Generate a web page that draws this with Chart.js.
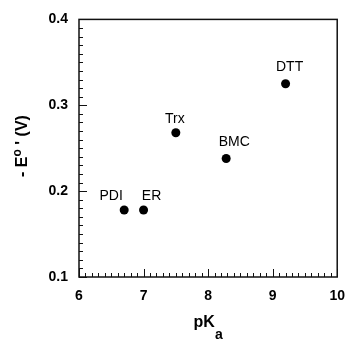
<!DOCTYPE html>
<html>
<head>
<meta charset="utf-8">
<script src="https://cdn.jsdelivr.net/npm/chart.js@4.4.1/dist/chart.umd.min.js"></script>
<style>
  body { margin: 0; background: #fff; }
  #wrap { width: 356px; height: 341px; }
</style>
</head>
<body>
<div id="wrap"><canvas id="chart" width="356" height="341"></canvas></div>
<script>
// values
const names = ['PDI', 'ER', 'Trx', 'BMC', 'DTT'];
const pKa = [6.7, 7.0, 7.5, 8.28, 9.2];
const potential = [0.178, 0.178, 0.268, 0.238, 0.325];

// label placement relative to each point (px)
const labelDx = [-13, 8, -1, 8, 4];
const labelDy = [-14, -14, -14, -16, -17];

const FONT = '"Liberation Sans", Arial, sans-serif';

// frame, inward tick marks, point labels and axis titles
const decor = {
  id: 'decor',
  afterDraw(chart) {
    const { ctx, chartArea: a, scales: { x, y } } = chart;
    ctx.save();
    ctx.strokeStyle = '#111';
    ctx.lineWidth = 1.5;
    ctx.strokeRect(a.left, a.top, a.right - a.left, a.bottom - a.top);

    ctx.lineWidth = 1;
    ctx.beginPath();
    for (let i = 60; i <= 100; i++) {
      const px = Math.round(x.getPixelForValue(i / 10)) + 0.5;
      const len = i % 10 === 0 ? 8 : 4;
      ctx.moveTo(px, a.bottom);
      ctx.lineTo(px, a.bottom - len);
    }
    for (let i = 10; i <= 40; i++) {
      const py = Math.round(y.getPixelForValue(i / 100)) + 0.5;
      const len = i % 10 === 0 ? 8 : 4;
      ctx.moveTo(a.left, py);
      ctx.lineTo(a.left + len, py);
    }
    ctx.stroke();

    // point labels
    ctx.fillStyle = '#000';
    ctx.font = '14px ' + FONT;
    ctx.textAlign = 'center';
    ctx.textBaseline = 'middle';
    names.forEach((n, i) => {
      const px = x.getPixelForValue(pKa[i]);
      const py = y.getPixelForValue(potential[i]);
      ctx.fillText(n, px + labelDx[i], py + labelDy[i]);
    });

    // x title: pKa
    ctx.textAlign = 'left';
    ctx.textBaseline = 'alphabetic';
    ctx.font = 'bold 16px ' + FONT;
    const w1 = ctx.measureText('pK').width;
    ctx.font = 'bold 14px ' + FONT;
    const w2 = ctx.measureText('a').width;
    const cx = (a.left + a.right) / 2;
    const sx = cx - (w1 + w2) / 2;
    ctx.font = 'bold 16px ' + FONT;
    ctx.fillText('pK', sx, 327);
    ctx.font = 'bold 14px ' + FONT;
    ctx.fillText('a', sx + w1, 339);

    // y title: - E°' (V)
    ctx.translate(27, 146);
    ctx.rotate(-Math.PI / 2);
    const parts = [
      { t: '- E', f: 'bold 16px ', dy: 0 },
      { t: 'o', f: 'bold 12px ', dy: -6 },
      { t: " '", f: 'bold 16px ', dy: 0 },
      { t: ' (V)', f: 'bold 16px ', dy: 0 }
    ];
    let total = 0;
    parts.forEach(p => { ctx.font = p.f + FONT; p.w = ctx.measureText(p.t).width; total += p.w; });
    let tx = -total / 2;
    parts.forEach(p => {
      ctx.font = p.f + FONT;
      ctx.fillText(p.t, tx, p.dy);
      tx += p.w;
    });
    ctx.restore();
  }
};

new Chart(document.getElementById('chart'), {
  type: 'scatter',
  data: {
    datasets: [{
      data: pKa.map((v, i) => ({ x: v, y: potential[i] })),
      backgroundColor: '#000',
      borderWidth: 0,
      pointRadius: 4.5,
      pointHoverRadius: 4.5
    }]
  },
  options: {
    responsive: false,
    animation: false,
    layout: { padding: { left: 0, top: 16, right: 17, bottom: 0 } },
    plugins: { legend: { display: false }, tooltip: { enabled: false } },
    scales: {
      x: {
        type: 'linear',
        min: 6, max: 10,
        afterFit: s => { s.height = 64; },
        grid: { display: false, drawTicks: false },
        border: { display: false },
        ticks: { stepSize: 1, padding: 11, color: '#000', font: { family: FONT, size: 14, weight: 'bold' } }
      },
      y: {
        type: 'linear',
        min: 0.1, max: 0.4,
        afterFit: s => { s.width = 79; },
        grid: { display: false, drawTicks: false },
        border: { display: false },
        ticks: { stepSize: 0.1, padding: 11, color: '#000', font: { family: FONT, size: 14, weight: 'bold' } }
      }
    }
  },
  plugins: [decor]
});
</script>
</body>
</html>
